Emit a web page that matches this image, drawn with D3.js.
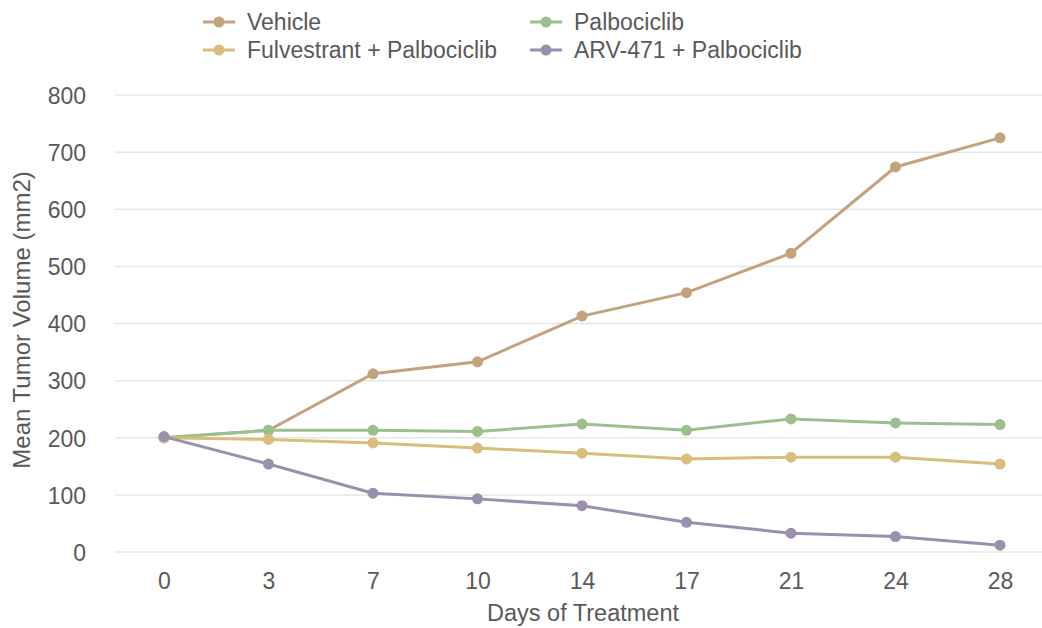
<!DOCTYPE html>
<html><head><meta charset="utf-8">
<script src="https://cdn.jsdelivr.net/npm/d3@7"></script>
<style>body{margin:0;background:#fff}svg{display:block}svg text{font-family:"Liberation Sans",Arial,Helvetica,sans-serif}</style>
</head><body><svg id="c" width="1042" height="628"></svg>
<script>
const days = ["0","3","7","10","14","17","21","24","28"];
const vehicle = [200,213,312,333,413,454,523,674,725];
const palbociclib = [200,213,213,211,224,213,233,226,223];
const fulvestrantPalbo = [200,197,191,182,173,163,166,166,154];
const arvPalbo = [202,154,103,93,81,52,33,27,12];
const yTicks = [0,100,200,300,400,500,600,700,800];
const seriesNames = ["Vehicle","Palbociclib","Fulvestrant + Palbociclib","ARV-471 + Palbociclib"];
const seriesColors = ["#c4a27e","#9cbf8e","#d8be7a","#9b8fae"];
const seriesValues = [vehicle, palbociclib, fulvestrantPalbo, arvPalbo];

const svg = d3.select("#c");
const x = d3.scalePoint().domain(days).range([164,1000]);
const y = d3.scaleLinear().domain([0,800]).range([552,95]);
const txt = "#595959";
const fs = 23;

svg.append("g").selectAll("line").data(yTicks).join("line")
  .attr("x1",115).attr("x2",1042).attr("y1",d=>y(d)).attr("y2",d=>y(d))
  .attr("stroke","#e6e6e6").attr("stroke-width",1.5);

const yAxis = d3.axisLeft(y).tickValues(yTicks).tickSize(0).tickPadding(0);
const gy = svg.append("g").attr("transform","translate(86,0)").call(yAxis);
gy.select(".domain").remove();
gy.selectAll("text").attr("fill",txt).attr("font-size",fs).attr("dy","0.36em").attr("x",0);

const xAxis = d3.axisBottom(x).tickSize(0).tickPadding(0);
const gx = svg.append("g").attr("transform","translate(0,573)").call(xAxis);
gx.select(".domain").remove();
gx.selectAll("text").attr("fill",txt).attr("font-size",fs).attr("dy","0.71em");

svg.append("text").attr("x",583).attr("y",621).attr("text-anchor","middle")
  .attr("fill",txt).attr("font-size",23.5).text("Days of Treatment");
svg.append("text").attr("transform","translate(30,320) rotate(-90)").attr("text-anchor","middle")
  .attr("fill",txt).attr("font-size",24).text("Mean Tumor Volume (mm2)");

const line = d3.line().x((d,i)=>x(days[i])).y(d=>y(d));
seriesValues.forEach((vals,k)=>{
  const g = svg.append("g");
  g.append("path").datum(vals).attr("d",line).attr("fill","none")
    .attr("stroke",seriesColors[k]).attr("stroke-width",3);
  g.selectAll("circle").data(vals).join("circle")
    .attr("cx",(d,i)=>x(days[i])).attr("cy",d=>y(d)).attr("r",5.5).attr("fill",seriesColors[k]);
});

const legPos = [[203,22],[530,22],[203,50],[530,50]];
seriesNames.forEach((n,k)=>{
  const [lx,ly] = legPos[k];
  const g = svg.append("g");
  g.append("line").attr("x1",lx).attr("x2",lx+32).attr("y1",ly).attr("y2",ly)
    .attr("stroke",seriesColors[k]).attr("stroke-width",3);
  g.append("circle").attr("cx",lx+16).attr("cy",ly).attr("r",5.5).attr("fill",seriesColors[k]);
  g.append("text").attr("x",lx+44).attr("y",ly).attr("dy","0.36em")
    .attr("fill",txt).attr("font-size",fs).text(n);
});
</script></body></html>
